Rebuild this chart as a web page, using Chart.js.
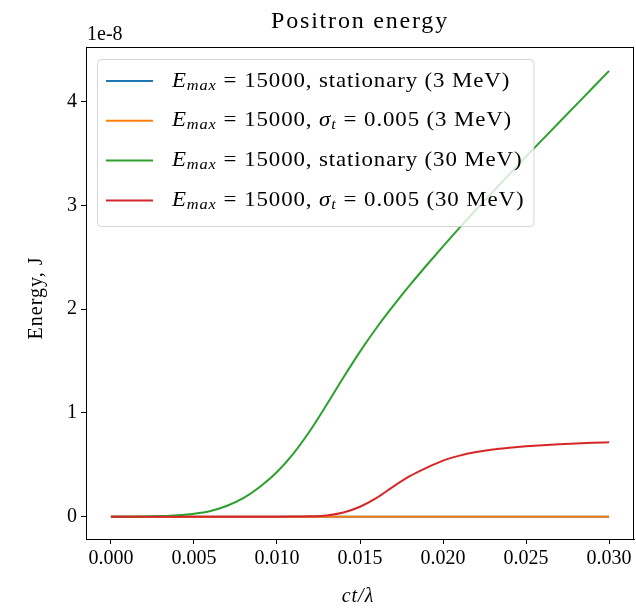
<!DOCTYPE html>
<html>
<head>
<meta charset="utf-8">
<script src="https://cdn.jsdelivr.net/npm/chart.js@4.4.0/dist/chart.umd.min.js"></script>
<style>
  html, body { margin: 0; padding: 0; background: #fff; }
</style>
</head>
<body>
<canvas id="chart" width="636" height="608"></canvas>
<script>
// ct/lambda sample points
const ctLambda = [0.000, 0.001, 0.002, 0.003, 0.004, 0.005, 0.006, 0.007, 0.008, 0.009,
                  0.010, 0.011, 0.012, 0.013, 0.014, 0.015, 0.016, 0.017, 0.018, 0.019,
                  0.020, 0.021, 0.022, 0.023, 0.024, 0.025, 0.026, 0.027, 0.028, 0.029, 0.030];

// energy in units of 1e-8 J
const stat3MeV  = [0, 0, 0, 0, 0, 0, 0, 0, 0, 0, 0, 0, 0, 0, 0, 0, 0, 0, 0, 0,
                   0, 0, 0, 0, 0, 0, 0, 0, 0, 0, 0];
const sigma3MeV = [0, 0, 0, 0, 0, 0, 0, 0, 0, 0, 0, 0, 0, 0, 0, 0, 0, 0, 0, 0,
                   0, 0, 0, 0, 0, 0, 0, 0, 0, 0, 0];
const stat30MeV = [0, 0, 0.001, 0.005, 0.013, 0.028, 0.055, 0.105, 0.18, 0.29,
                   0.43, 0.61, 0.83, 1.08, 1.34, 1.59, 1.82, 2.03, 2.23, 2.42,
                   2.605, 2.785, 2.96, 3.13, 3.30, 3.47, 3.635, 3.80, 3.965, 4.13, 4.295];
const sigma30MeV = [0, 0, 0, 0, 0, 0, 0, 0, 0, 0, 0, 0.001, 0.003, 0.012, 0.04, 0.095,
                    0.18, 0.29, 0.39, 0.47, 0.54, 0.588, 0.622, 0.647, 0.664, 0.678,
                    0.689, 0.698, 0.705, 0.711, 0.716];

const seriesLabels = [
  "E_max = 15000, stationary (3 MeV)",
  "E_max = 15000, σ_t = 0.005 (3 MeV)",
  "E_max = 15000, stationary (30 MeV)",
  "E_max = 15000, σ_t = 0.005 (30 MeV)"
];
const seriesColors = ["#1f77b4", "#ff7f0e", "#2ca02c", "#d62728"];
const xTickVals = [0, 0.005, 0.010, 0.015, 0.020, 0.025, 0.030];
const yTickVals = [0, 1, 2, 3, 4];

const FONT = "'Liberation Serif', 'DejaVu Serif', serif";
const LEGEND_STRETCH = 1.09;

function pts(ys) {
  return ctLambda.map((x, i) => ({ x: x, y: ys[i] }));
}

// text with simple X_sub math parts, wider spacing round "="
function richText(ctx, str, x, y, size, draw) {
  const re = /([A-Za-zσ])_([a-z]+)|( = )/g;
  let last = 0, m;
  const put = (t, style, sz, dy) => {
    ctx.font = style + " " + sz + "px " + FONT;
    if (draw) ctx.fillText(t, x, y + dy);
    x += ctx.measureText(t).width;
  };
  while ((m = re.exec(str))) {
    put(str.slice(last, m.index), "normal", size, 0);
    if (m[3]) {
      x += size * 0.3;
      put("=", "normal", size, 0);
      x += size * 0.3;
    } else {
      put(m[1], "italic", size, 0);
      put(m[2], "italic", Math.round(size * 0.7), size * 0.22);
    }
    last = re.lastIndex;
  }
  put(str.slice(last), "normal", size, 0);
  return x;
}

const decor = {
  id: "decor",
  afterDatasetsDraw(chart) {
    const ctx = chart.ctx;
    const ca = chart.chartArea;
    const cx = (ca.left + ca.right) / 2;
    ctx.save();

    // frame
    ctx.strokeStyle = "#000";
    ctx.lineWidth = 1;
    ctx.strokeRect(ca.left + 0.5, ca.top + 0.5, ca.right - ca.left - 1, ca.bottom - ca.top);

    // title
    ctx.fillStyle = "#000";
    ctx.textBaseline = "middle";
    ctx.textAlign = "center";
    ctx.letterSpacing = "1.8px";
    ctx.font = "24px " + FONT;
    ctx.fillText("Positron energy", cx, 22);

    // axis titles
    ctx.letterSpacing = "1px";
    ctx.font = "italic 20px " + FONT;
    ctx.fillText("ct/λ", cx - 2, 597);
    ctx.save();
    ctx.translate(37, (ca.top + ca.bottom) / 2 + 5);
    ctx.rotate(-Math.PI / 2);
    ctx.font = "20px " + FONT;
    ctx.fillText("Energy, J", 0, 0);
    ctx.restore();

    // offset text
    ctx.letterSpacing = "0px";
    ctx.textAlign = "left";
    ctx.textBaseline = "alphabetic";
    ctx.font = "20px " + FONT;
    ctx.fillText("1e-8", ca.left + 1, 40);

    // legend
    const size = 21;
    ctx.letterSpacing = "0.8px";
    let maxW = 0;
    seriesLabels.forEach(l => { maxW = Math.max(maxW, richText(ctx, l, 0, 0, size, false)); });
    maxW *= LEGEND_STRETCH;
    const bx = ca.left + 11, by = ca.top + 12;
    const bw = 75 + maxW + 9, bh = 167;
    ctx.beginPath();
    ctx.roundRect(bx + 0.5, by + 0.5, bw, bh, 4);
    ctx.fillStyle = "rgba(255,255,255,0.8)";
    ctx.fill();
    ctx.lineWidth = 1;
    ctx.strokeStyle = "rgba(204,204,204,0.8)";
    ctx.stroke();
    ctx.textBaseline = "middle";
    seriesLabels.forEach((l, i) => {
      const ry = by + 22 + i * 39.8;
      ctx.strokeStyle = seriesColors[i];
      ctx.lineWidth = 2;
      ctx.beginPath();
      ctx.moveTo(bx + 9, ry);
      ctx.lineTo(bx + 56, ry);
      ctx.stroke();
      ctx.fillStyle = "#000";
      ctx.save();
      ctx.translate(bx + 75, ry);
      ctx.scale(LEGEND_STRETCH, 1);
      richText(ctx, l, 0, 0, size, true);
      ctx.restore();
    });
    ctx.restore();
  }
};

new Chart(document.getElementById("chart"), {
  type: "line",
  data: {
    datasets: [
      { label: seriesLabels[0], data: pts(stat3MeV) },
      { label: seriesLabels[1], data: pts(sigma3MeV) },
      { label: seriesLabels[2], data: pts(stat30MeV) },
      { label: seriesLabels[3], data: pts(sigma30MeV) }
    ].map((d, i) => Object.assign(d, {
      borderColor: seriesColors[i],
      backgroundColor: seriesColors[i],
      borderWidth: 2,
      pointRadius: 0,
      fill: false,
      order: 3 - i,
      cubicInterpolationMode: "monotone"
    }))
  },
  options: {
    responsive: false,
    animation: false,
    devicePixelRatio: 1,
    layout: { padding: { top: 47, right: 2, left: 0, bottom: 0 } },
    plugins: { legend: { display: false }, tooltip: { enabled: false } },
    scales: {
      x: {
        type: "linear",
        min: -0.0015,
        max: 0.0315,
        afterBuildTicks: s => { s.ticks = xTickVals.map(v => ({ value: v })); },
        afterFit: s => { s.height = 69; },
        ticks: {
          callback: v => v.toFixed(3),
          font: { family: FONT, size: 20 },
          color: "#000",
          maxRotation: 0,
          autoSkip: false,
          padding: 3
        },
        grid: { drawOnChartArea: false, drawTicks: true, tickLength: 5, color: "#000" },
        border: { display: true, color: "#000", width: 1 }
      },
      y: {
        type: "linear",
        min: -0.2155,
        max: 4.5255,
        afterBuildTicks: s => { s.ticks = yTickVals.map(v => ({ value: v })); },
        afterFit: s => { s.width = 86; },
        ticks: {
          callback: v => String(v),
          font: { family: FONT, size: 20 },
          color: "#000",
          padding: 4
        },
        grid: { drawOnChartArea: false, drawTicks: true, tickLength: 5, color: "#000" },
        border: { display: true, color: "#000", width: 1 }
      }
    }
  },
  plugins: [decor]
});
</script>
</body>
</html>
